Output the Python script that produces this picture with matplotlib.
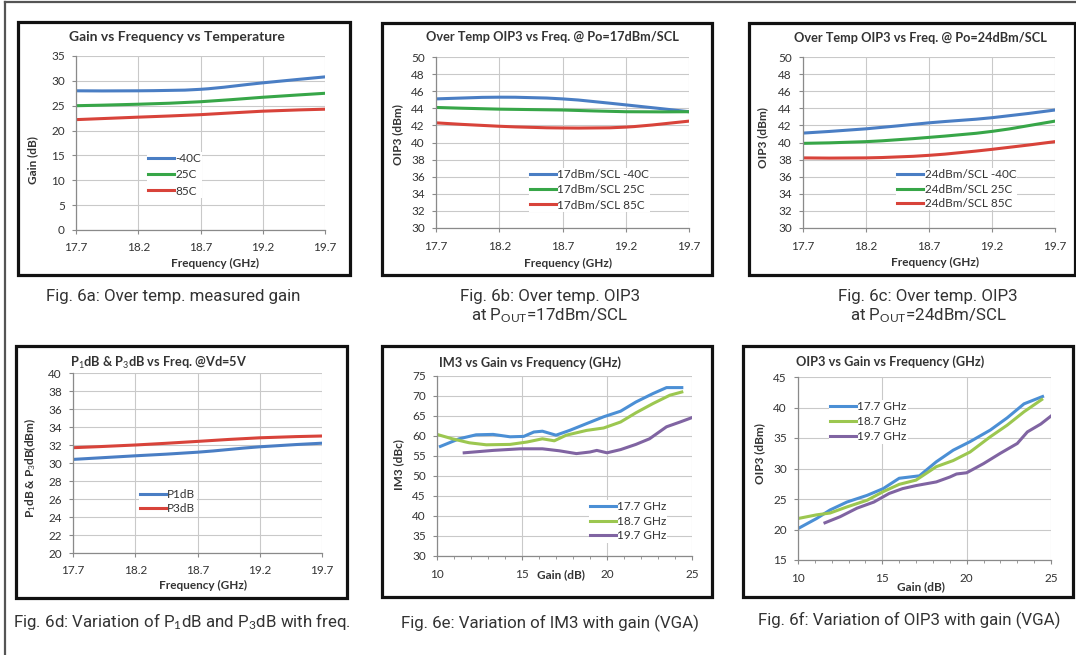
import numpy as np
import matplotlib
matplotlib.use("Agg")
import matplotlib.pyplot as plt
from matplotlib.path import Path
from matplotlib.patches import PathPatch, Rectangle
from matplotlib.lines import Line2D

plt.rcParams['font.family'] = ['Lato', 'DejaVu Sans']
plt.rcParams['mathtext.fontset'] = 'custom'
plt.rcParams['mathtext.rm'] = 'Lato'
plt.rcParams['mathtext.it'] = 'Lato:italic'
plt.rcParams['mathtext.bf'] = 'Lato:bold'

# --- data ---
freq = [17.7, 18.2, 18.7, 19.2, 19.7]
freq_labels = ['17.7', '18.2', '18.7', '19.2', '19.7']

gain_m40 = [28.0, 28.0, 28.3, 29.6, 30.8]
gain_25 = [25.0, 25.3, 25.8, 26.7, 27.5]
gain_85 = [22.2, 22.7, 23.2, 23.9, 24.3]

oip3_17_m40 = [45.1, 45.3, 45.1, 44.4, 43.6]
oip3_17_25 = [44.1, 43.9, 43.8, 43.6, 43.6]
oip3_17_85 = [42.3, 41.9, 41.7, 41.8, 42.5]

oip3_24_m40 = [41.1, 41.6, 42.3, 42.9, 43.8]
oip3_24_25 = [39.9, 40.1, 40.6, 41.3, 42.5]
oip3_24_85 = [38.2, 38.2, 38.5, 39.2, 40.1]

p1db = [30.4, 30.8, 31.2, 31.8, 32.2]
p3db = [31.7, 32.0, 32.4, 32.8, 33.0]

im3_gain_177 = [10.2, 11.3, 12.3, 13.3, 14.3, 15.1, 15.7, 16.2, 17.0, 17.8, 18.8, 19.8, 20.8, 21.7, 22.7, 23.5, 24.4]
im3_177 = [57.4, 59.3, 60.3, 60.4, 59.8, 59.9, 61.0, 61.2, 60.2, 61.4, 63.1, 64.8, 66.2, 68.5, 70.6, 72.1, 72.1]
im3_gain_187 = [10.0, 10.9, 11.9, 12.9, 14.3, 15.3, 16.2, 16.9, 17.6, 18.8, 19.8, 20.8, 21.7, 22.7, 23.7, 24.4]
im3_187 = [60.4, 59.3, 58.3, 57.8, 57.9, 58.5, 59.3, 58.8, 60.2, 61.4, 62.0, 63.5, 65.8, 68.1, 70.2, 71.0]
im3_gain_197 = [11.6, 13.3, 14.9, 16.2, 17.2, 18.2, 19.0, 19.4, 20.0, 20.8, 21.7, 22.5, 23.5, 24.3, 25.0]
im3_197 = [55.8, 56.4, 56.8, 56.8, 56.3, 55.6, 56.0, 56.4, 55.8, 56.6, 57.9, 59.3, 62.3, 63.5, 64.6]

oip3_gain_177 = [10.1, 11.1, 11.9, 12.9, 14.1, 15.05, 16.0, 16.6, 17.2, 18.2, 19.2, 20.2, 21.4, 22.4, 23.4, 24.5]
oip3_177 = [20.3, 21.8, 23.2, 24.5, 25.6, 26.7, 28.4, 28.6, 28.8, 31.1, 33.0, 34.4, 36.3, 38.3, 40.6, 41.8]
oip3_gain_187 = [10.0, 11.1, 11.9, 12.9, 14.1, 15.05, 16.0, 17.0, 18.2, 19.2, 20.2, 21.4, 22.4, 23.4, 24.45]
oip3_187 = [21.8, 22.4, 22.7, 23.7, 24.8, 26.2, 27.4, 28.1, 30.3, 31.3, 32.7, 35.2, 37.1, 39.3, 41.3]
oip3_gain_197 = [11.6, 12.5, 13.5, 14.5, 15.4, 16.2, 17.0, 18.2, 19.0, 19.4, 20.0, 21.0, 22.0, 23.0, 23.6, 24.4, 25.0]
oip3_197 = [21.1, 22.1, 23.5, 24.5, 25.9, 26.7, 27.2, 27.8, 28.6, 29.1, 29.3, 30.8, 32.5, 34.1, 36.0, 37.3, 38.6]

# --- colours ---
BLUE, GREEN, RED = '#4a7ec4', '#37a648', '#d8433a'
BLUE2, LIME, PURPLE = '#4b8fd5', '#9cc750', '#8064a2'
GRID = '#c9c9c9'
TXT = '#333333'
CAP_FONT = ['Liberation Sans Narrow', 'Roboto', 'DejaVu Sans']

W, H = 1076, 655
fig = plt.figure(figsize=(W / 100, H / 100), dpi=100)


def px_axes(x0, y0, x1, y1):
    return fig.add_axes([x0 / W, 1 - y1 / H, (x1 - x0) / W, (y1 - y0) / H])


def box(x0, y0, x1, y1):
    fig.patches.append(Rectangle((x0 / W, 1 - y1 / H), (x1 - x0) / W, (y1 - y0) / H,
                                 transform=fig.transFigure, fill=False,
                                 edgecolor='#111111', linewidth=2.3))


def smooth_line(ax, x, y, color, label):
    # Excel-like smoothed line (Catmull-Rom as cubic Bezier)
    pts = np.column_stack([x, y]).astype(float)
    ext = np.vstack([pts[0], pts, pts[-1]])
    verts = [pts[0]]
    codes = [Path.MOVETO]
    for i in range(1, len(ext) - 2):
        p0, p1, p2, p3 = ext[i - 1], ext[i], ext[i + 1], ext[i + 2]
        verts += [p1 + (p2 - p0) / 6, p2 - (p3 - p1) / 6, p2]
        codes += [Path.CURVE4] * 3
    ax.add_patch(PathPatch(Path(verts, codes), facecolor='none', edgecolor=color,
                           linewidth=2.2, capstyle='round'))
    ax.plot([], [], color=color, lw=2.2, label=label)


def style(ax, xlab, ylab, xl, yl):
    ax.grid(True, color=GRID, linewidth=0.8)
    ax.set_axisbelow(True)
    for s in ['top', 'right']:
        ax.spines[s].set_visible(False)
    for s in ['left', 'bottom']:
        ax.spines[s].set_color('#8a8a8a')
        ax.spines[s].set_linewidth(0.9)
    ax.tick_params(colors='#8a8a8a', labelcolor=TXT, labelsize=8.5, length=3, width=0.8)
    ax.tick_params(axis='x', pad=6)
    ax.tick_params(axis='y', pad=5)
    ax.set_xlabel(xlab, fontsize=8.5, fontweight='bold', color=TXT, va='center')
    ax.set_ylabel(ylab, fontsize=8.5, fontweight='bold', color=TXT, va='center')
    ax.xaxis.set_label_coords(*xl)
    ax.yaxis.set_label_coords(*yl)


def legend(ax, x, y, spacing):
    ax.legend(loc='upper left', bbox_to_anchor=(x, y), frameon=True, facecolor='white',
              edgecolor='none', framealpha=1, fancybox=False, fontsize=8.5,
              labelcolor=TXT, handlelength=2.2, handletextpad=0.1, borderpad=0.1,
              borderaxespad=0, labelspacing=spacing)


def freq_axes(ax, ymin, ymax, ystep):
    ax.set_xlim(17.7, 19.7)
    ax.set_xticks(freq)
    ax.set_xticklabels(freq_labels)
    ax.set_ylim(ymin, ymax)
    ax.set_yticks(np.arange(ymin, ymax + 0.1, ystep))


def title(x, y, s, size=9.2):
    fig.text(x / W, 1 - y / H, s, ha='center', va='center', fontsize=size,
             fontweight='bold', color=TXT)


def caption(x, y, s):
    fig.text(x / W, 1 - y / H, s, ha='center', va='center', fontsize=12.2,
             color='#333333', family=CAP_FONT)


# outer frame
fig.add_artist(Line2D([5 / W, 5 / W], [0, 1 - 2 / H], transform=fig.transFigure,
                      color='#555555', lw=1.6))
fig.add_artist(Line2D([5 / W, 1], [1 - 2 / H, 1 - 2 / H], transform=fig.transFigure,
                      color='#555555', lw=1.6))

# --- 6a ---
box(18, 22, 350, 275)
ax = px_axes(76, 56, 325, 230)
freq_axes(ax, 0, 35, 5)
smooth_line(ax, freq, gain_m40, BLUE, '-40C')
smooth_line(ax, freq, gain_25, GREEN, '25C')
smooth_line(ax, freq, gain_85, RED, '85C')
style(ax, 'Frequency (GHz)', 'Gain (dB)', (0.558, -0.19), (-0.173, 0.402))
legend(ax, 0.285, 0.45, 0.45)
title(177, 37, 'Gain vs Frequency vs Temperature', 10)
caption(173, 296, 'Fig. 6a: Over temp. measured gain')

# --- 6b ---
box(382, 23, 712, 275)
ax = px_axes(436, 57, 689, 228)
freq_axes(ax, 30, 50, 2)
smooth_line(ax, freq, oip3_17_m40, BLUE, '17dBm/SCL -40C')
smooth_line(ax, freq, oip3_17_25, GREEN, '17dBm/SCL 25C')
smooth_line(ax, freq, oip3_17_85, RED, '17dBm/SCL 85C')
style(ax, 'Frequency (GHz)', 'OIP3 (dBm)', (0.522, -0.205), (-0.150, 0.544))
legend(ax, 0.368, 0.35, 0.35)
title(552, 37, 'Over Temp OIP3 vs Freq. @ Po=17dBm/SCL')
caption(550, 297, 'Fig. 6b: Over temp. OIP3')
caption(549, 316, r'at P$_{\mathrm{OUT}}$=17dBm/SCL')

# --- 6c ---
box(749, 23, 1075, 275)
ax = px_axes(803, 57, 1055, 228)
freq_axes(ax, 30, 50, 2)
smooth_line(ax, freq, oip3_24_m40, BLUE, '24dBm/SCL -40C')
smooth_line(ax, freq, oip3_24_25, GREEN, '24dBm/SCL 25C')
smooth_line(ax, freq, oip3_24_85, RED, '24dBm/SCL 85C')
style(ax, 'Frequency (GHz)', 'OIP3 (dBm)', (0.524, -0.2), (-0.159, 0.526))
legend(ax, 0.37, 0.35, 0.28)
title(920, 38, 'Over Temp OIP3 vs Freq. @ Po=24dBm/SCL')
caption(928, 297, 'Fig. 6c: Over temp. OIP3')
caption(928, 316, r'at P$_{\mathrm{OUT}}$=24dBm/SCL')

# --- 6d ---
box(16, 346, 347, 598)
ax = px_axes(73, 373, 322, 553)
freq_axes(ax, 20, 40, 2)
smooth_line(ax, freq, p1db, BLUE, 'P1dB')
smooth_line(ax, freq, p3db, RED, 'P3dB')
style(ax, 'Frequency (GHz)', r'P$_1$dB & P$_3$dB(dBm)', (0.522, -0.183), (-0.173, 0.472))
legend(ax, 0.265, 0.36, 0.2)
title(158, 362, r'P$_1$dB & P$_3$dB vs Freq. @Vd=5V')
caption(182, 621, r'Fig. 6d: Variation of P$_1$dB and P$_3$dB with freq.')

# --- 6e ---
box(382, 346, 712, 597)
ax = px_axes(437, 376, 692, 556)
ax.plot(im3_gain_177, im3_177, color=BLUE2, lw=2.2, label='17.7 GHz')
ax.plot(im3_gain_187, im3_187, color=LIME, lw=2.2, label='18.7 GHz')
ax.plot(im3_gain_197, im3_197, color=PURPLE, lw=2.2, label='19.7 GHz')
ax.set_xlim(10, 25)
ax.set_ylim(30, 75)
ax.set_xticks([10, 15, 20, 25])
ax.set_xticks(np.arange(10, 26, 1), minor=True)
ax.set_yticks(np.arange(30, 76, 5))
style(ax, 'Gain (dB)', 'IM3 (dBc)', (0.486, -0.106), (-0.149, 0.506))
ax.tick_params(axis='x', which='minor', length=2, color='#8a8a8a')
legend(ax, 0.595, 0.31, 0.3)
title(530, 363, 'IM3 vs Gain vs Frequency (GHz)')
caption(550, 623, 'Fig. 6e: Variation of IM3 with gain (VGA)')

# --- 6f ---
box(743, 346, 1073, 597)
ax = px_axes(798, 377, 1051, 560)
ax.plot(oip3_gain_177, oip3_177, color=BLUE2, lw=2.2, label='17.7 GHz')
ax.plot(oip3_gain_187, oip3_187, color=LIME, lw=2.2, label='18.7 GHz')
ax.plot(oip3_gain_197, oip3_197, color=PURPLE, lw=2.2, label='19.7 GHz')
ax.set_xlim(10, 25)
ax.set_ylim(15, 45)
ax.set_xticks([10, 15, 20, 25])
ax.set_xticks(np.arange(10, 26, 1), minor=True)
ax.set_yticks(np.arange(15, 46, 5))
style(ax, 'Gain (dB)', 'OIP3 (dBm)', (0.486, -0.148), (-0.150, 0.579))
ax.tick_params(axis='x', which='minor', length=2, color='#8a8a8a')
legend(ax, 0.122, 0.875, 0.35)
title(890, 362, 'OIP3 vs Gain vs Frequency (GHz)')
caption(909, 620, 'Fig. 6f: Variation of OIP3 with gain (VGA)')

fig.savefig('out.png', dpi=100, facecolor='white')
